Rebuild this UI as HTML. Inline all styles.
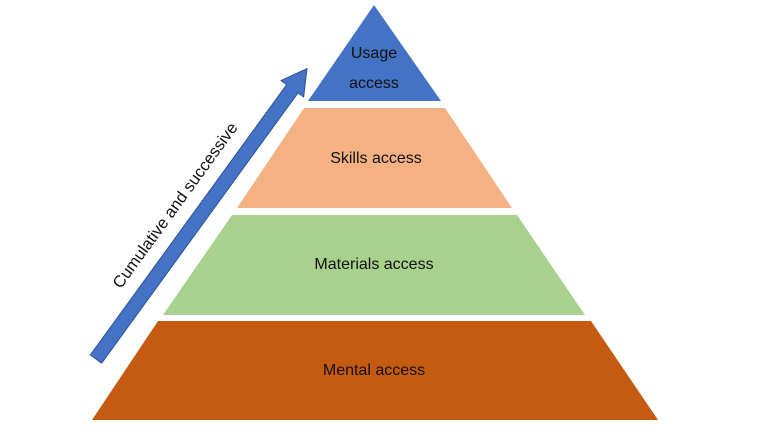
<!DOCTYPE html>
<html><head><meta charset="utf-8"><style>
html,body{margin:0;padding:0;background:#fff;}
svg{display:block;}
text{font-family:"Liberation Sans",sans-serif;fill:#111;}
</style></head><body>
<svg width="770" height="435" viewBox="0 0 770 435">
<polygon points="374,5 441,101 308,101" fill="#4472c4"/>
<polygon points="304,108 445,108 512,208 237,208" fill="#f4b183"/>
<polygon points="232,215 517,215 585,315 163,315" fill="#a9d18e"/>
<polygon points="158,321 591,321 658,420 92,420" fill="#c55a11"/>
<text x="374" y="58" font-size="16" text-anchor="middle">Usage</text>
<text x="374" y="88" font-size="16" text-anchor="middle">access</text>
<text x="376" y="163" font-size="16" text-anchor="middle">Skills access</text>
<text x="374" y="269" font-size="16" text-anchor="middle">Materials access</text>
<text x="374" y="375" font-size="16" text-anchor="middle">Mental access</text>
<g transform="translate(96,359) rotate(-54)">
<polygon points="0,-7 334,-7 334,-14 359,0 334,14 334,7 0,7" fill="#4472c4" stroke="#2f528f" stroke-width="1"/>
</g>
<text transform="translate(176,206) rotate(-54)" font-size="16.5" text-anchor="middle" dominant-baseline="middle">Cumulative and successive</text>
</svg>
</body></html>
